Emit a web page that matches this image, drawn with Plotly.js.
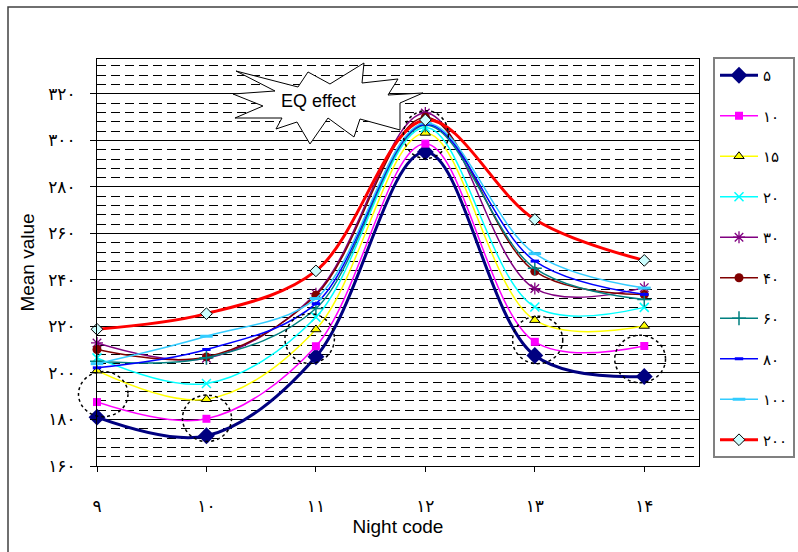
<!DOCTYPE html>
<html>
<head>
<meta charset="utf-8">
<script src="https://cdn.plot.ly/plotly-3.0.1.min.js"></script>
<style>html,body{margin:0;padding:0;background:#fff;}#chart{width:798px;height:552px;}</style>
</head>
<body>
<div id="chart"></div>
<script>
// ---- data ----
const nights = [9, 10, 11, 12, 13, 14];
const nightLabels = ['۹', '۱۰', '۱۱', '۱۲', '۱۳', '۱۴'];
const yTickVals = [160, 180, 200, 220, 240, 260, 280, 300, 320];
const yTickText = ['۱۶۰', '۱۸۰', '۲۰۰', '۲۲۰', '۲۴۰', '۲۶۰', '۲۸۰', '۳۰۰', '۳۲۰'];
const seriesNames = ['۵', '۱۰', '۱۵', '۲۰', '۳۰', '۴۰', '۶۰', '۸۰', '۱۰۰', '۲۰۰'];
const s5   = [181.0, 173.0, 207.0, 295.0, 207.5, 198.5];
const s10  = [187.5, 180.3, 211.5, 298.6, 213.4, 211.6];
const s15  = [201.0, 188.7, 218.7, 303.2, 222.7, 220.2];
const s20  = [206.5, 195.5, 224.0, 305.5, 228.4, 228.2];
const s30  = [212.9, 206.3, 234.1, 311.8, 236.3, 236.7];
const s40  = [210.1, 206.9, 233.4, 310.0, 243.7, 233.7];
const s60  = [205.0, 206.5, 227.7, 306.5, 245.0, 231.6];
const s80  = [202.2, 210.1, 229.8, 307.0, 248.1, 233.8];
const s100 = [204.0, 215.8, 232.0, 307.5, 251.3, 236.5];
const s200 = [218.8, 225.5, 243.9, 308.8, 266.0, 248.4];
// dotted highlight ellipses: [center night, center value, half width (night), half height (value)]
const circles = [
  [9.057, 190.9, 0.226, 9.7],
  [10.005, 180.5, 0.224, 10.0],
  [10.943, 214.8, 0.226, 10.7],
  [12.005, 302.5, 0.205, 10.3],
  [13.026, 214.2, 0.229, 10.2],
  [13.962, 206.0, 0.232, 10.2]
];
const annotationText = 'EQ effect';
const xRange = [9, 14.5];
const yRange = [160, 335];

// ---- styles ----
const values = [s5, s10, s15, s20, s30, s40, s60, s80, s100, s200];
const styles = [
  {color:'#000080', w:3,   m:{symbol:'diamond', size:13, color:'#000080', line:{width:0}}},
  {color:'#FF00FF', w:1.5, m:{symbol:'square', size:8, color:'#FF00FF', line:{width:0}}},
  {color:'#FFFF00', w:1.5, m:{symbol:'triangle-up', size:9, color:'#FFFF00', line:{width:1, color:'#000000'}}},
  {color:'#00FFFF', w:1.5, m:{symbol:'x-thin-open', size:9, color:'#00FFFF', line:{width:1.5, color:'#00FFFF'}}},
  {color:'#800080', w:1.5, m:{symbol:'asterisk-open', size:10, color:'#800080', line:{width:1.3, color:'#800080'}}},
  {color:'#800000', w:1.5, m:{symbol:'circle', size:9, color:'#800000', line:{width:0}}},
  {color:'#008080', w:1.5, m:{symbol:'cross-thin-open', size:10, color:'#008080', line:{width:1.5, color:'#008080'}}},
  {color:'#0000FF', w:1.5, m:{symbol:'line-ew-open', size:6, color:'#0000FF', line:{width:3, color:'#0000FF'}}},
  {color:'#33CCFF', w:1.5, m:{symbol:'line-ew-open', size:9, color:'#33CCFF', line:{width:3, color:'#33CCFF'}}},
  {color:'#FF0000', w:3,   m:{symbol:'diamond', size:9, color:'#CCFFFF', line:{width:1, color:'#000000'}}}
];

const traces = values.map((v, i) => ({
  type: 'scatter', mode: 'lines+markers',
  x: nights, y: v, name: seriesNames[i], legendgroup: 'g' + i,
  line: {color: styles[i].color, width: styles[i].w, shape: 'spline', smoothing: 1},
  marker: styles[i].m, cliponaxis: false
}));

// paper-coordinate helpers for decoration (plot area 97..699 x, 59..466 y)
const L = 97, T = 59, W = 602, H = 407;
const px = x => (x - L) / W;
const py = y => (T + H - y) / H;
const dx = v => (v - xRange[0]) / (xRange[1] - xRange[0]);
const dy = v => (v - yRange[0]) / (yRange[1] - yRange[0]);
const star = [[236,71],[298,87],[308,72],[330,84],[364,63],[362,83],[398,79],[388,95],[423,93],[400,103],[400,130],[360,119],[354,137],[328,118],[310,144],[297,122],[276,129],[282,118],[235,118],[263,106],[233,94],[275,91]];
const starPath = 'M ' + star.map(p => px(p[0]).toFixed(4) + ',' + py(p[1]).toFixed(4)).join(' L ') + ' Z';

const shapes = [];
// outer chart frame
shapes.push({type:'rect', xref:'paper', yref:'paper', x0:px(8), x1:px(830), y0:py(7), y1:py(590),
  line:{color:'#404040', width:1.5}, fillcolor:'rgba(0,0,0,0)', layer:'below'});
circles.forEach(c => shapes.push({type:'circle', xref:'paper', yref:'paper',
  x0:dx(c[0]-c[2]), x1:dx(c[0]+c[2]), y0:dy(c[1]-c[3]), y1:dy(c[1]+c[3]),
  line:{color:'#000000', width:1.5, dash:'dot'}, layer:'above'}));
shapes.push({type:'path', xref:'paper', yref:'paper', path: starPath,
  fillcolor:'#FFFFFF', line:{color:'#000000', width:1}, layer:'above'});

const layout = {
  width: 798, height: 552,
  margin: {l: L, r: 798 - L - W, t: T, b: 552 - T - H, autoexpand: false},
  paper_bgcolor: '#FFFFFF', plot_bgcolor: '#FFFFFF',
  showlegend: true,
  font: {family: '"DejaVu Sans", sans-serif', color: '#000000'},
  xaxis: {
    range: xRange, tickvals: nights, ticktext: nightLabels, automargin: false,
    ticks: 'outside', ticklen: 5, tickcolor: '#000', tickwidth: 1,
    ticklabelstandoff: 20, tickfont: {size: 17, family: '"DejaVu Sans"'},
    showgrid: false, zeroline: false,
    showline: true, linecolor: '#000', linewidth: 1, mirror: true,
    title: {text: 'Night code', font: {size: 19, family: '"Liberation Sans", Arial'}, standoff: 2}
  },
  yaxis: {
    range: yRange, tickvals: yTickVals, ticktext: yTickText, automargin: false,
    ticks: 'outside', ticklen: 6, tickcolor: '#000', tickwidth: 1,
    ticklabelstandoff: 11, tickfont: {size: 17, family: '"DejaVu Sans"'},
    showgrid: true, gridcolor: '#000000', gridwidth: 1, zeroline: false,
    showline: true, linecolor: '#000', linewidth: 1, mirror: true,
    minor: {dtick: 4, tick0: 160, showgrid: true, gridcolor: '#000000', gridwidth: 1, griddash: '9px,5px', ticks: ''},
    title: {text: 'Mean value', font: {size: 19, family: '"Liberation Sans", Arial'}, standoff: 8}
  },
  legend: {
    x: px(713), xanchor: 'left', y: py(57), yanchor: 'top',
    bgcolor: '#FFFFFF', bordercolor: '#808080', borderwidth: 2,
    font: {size: 15, family: '"DejaVu Sans"', color: '#000'},
    tracegroupgap: 18, itemwidth: 38, maxheight: 520
  },
  shapes: shapes,
  annotations: [{xref:'paper', yref:'paper', x: px(318), y: py(101), xanchor: 'center', yanchor: 'middle',
    text: annotationText, showarrow: false,
    font: {size: 18, family: '"Liberation Sans", Arial', color: '#000'}}]
};

Plotly.newPlot('chart', traces, layout, {displayModeBar: false, staticPlot: true});
</script>
</body>
</html>
